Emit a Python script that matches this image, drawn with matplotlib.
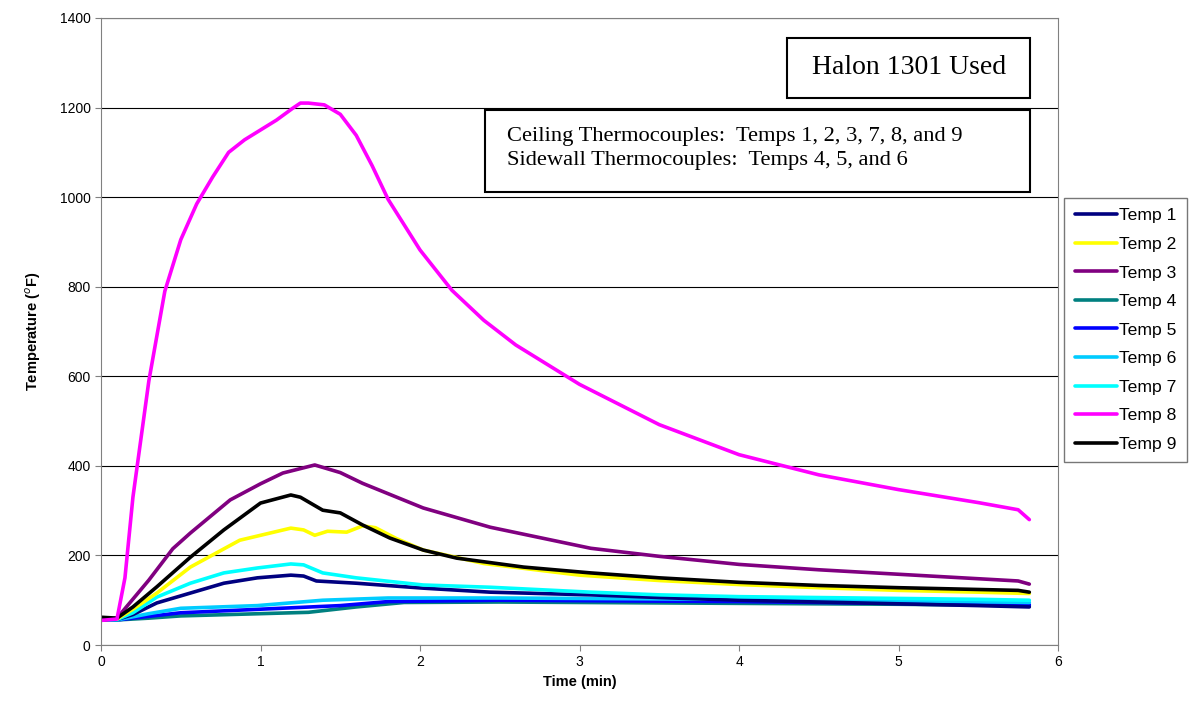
import matplotlib.pyplot as plt
from matplotlib.patches import Rectangle

# time (min) and temperature (F)
t8 = [0, 0.1, 0.15, 0.2, 0.3, 0.4, 0.5, 0.6, 0.7, 0.8, 0.9, 1.0, 1.1, 1.2, 1.25, 1.3, 1.4,
      1.5, 1.6, 1.7, 1.8, 2.0, 2.2, 2.4, 2.6, 3.0, 3.5, 4.0, 4.5, 5.0, 5.5, 5.75, 5.82]
temp8 = [55, 58, 150, 330, 590, 790, 905, 985, 1045, 1100, 1128, 1150, 1172, 1198, 1210, 1210, 1206,
         1185, 1138, 1070, 995, 882, 792, 725, 670, 582, 492, 425, 380, 347, 318, 302, 280]

t3 = [0, 0.1, 0.3, 0.45, 0.56, 0.81, 1.0, 1.14, 1.34, 1.5, 1.64, 2.02, 2.44, 3.07, 3.5, 4.0, 4.5,
      5.0, 5.5, 5.75, 5.82]
temp3 = [55, 60, 145, 215, 250, 324, 360, 384, 402, 385, 361, 306, 263, 216, 198, 180, 168,
         158, 148, 143, 136]

t9 = [0, 0.1, 0.2, 0.35, 0.56, 0.77, 1.0, 1.19, 1.25, 1.39, 1.5, 1.64, 1.81, 2.02, 2.23, 2.65,
      3.07, 3.5, 4.0, 4.5, 5.0, 5.5, 5.75, 5.82]
temp9 = [62, 60, 85, 130, 196, 257, 317, 335, 330, 301, 295, 268, 239, 212, 194, 174,
         161, 150, 140, 133, 128, 124, 122, 118]

t2 = [0, 0.1, 0.2, 0.35, 0.56, 0.87, 1.19, 1.27, 1.34, 1.42, 1.54, 1.64, 1.72, 1.85, 2.02,
      2.4, 3.0, 3.5, 4.0, 4.5, 5.0, 5.5, 5.82]
temp2 = [58, 58, 80, 116, 174, 234, 261, 257, 245, 254, 252, 266, 262, 238, 212,
         182, 156, 144, 135, 128, 122, 118, 115]

t7 = [0, 0.1, 0.2, 0.35, 0.56, 0.77, 0.98, 1.19, 1.27, 1.39, 1.6, 2.02, 2.44, 3.07, 3.5, 4.0,
      4.5, 5.0, 5.5, 5.82]
temp7 = [57, 57, 72, 107, 138, 161, 172, 181, 179, 161, 150, 134, 129, 118, 112, 108,
         106, 104, 102, 100]

t1 = [0, 0.1, 0.2, 0.35, 0.56, 0.77, 0.98, 1.19, 1.27, 1.35, 1.6, 2.02, 2.44, 3.07, 3.5, 4.0,
      4.5, 5.0, 5.5, 5.82]
temp1 = [57, 57, 68, 94, 116, 138, 150, 156, 154, 143, 138, 127, 118, 112, 106, 100,
         96, 92, 88, 85]

t6 = [0, 0.1, 0.3, 0.5, 0.98, 1.39, 1.8, 2.5, 3.0, 4.0, 5.0, 5.82]
temp6 = [56, 56, 70, 82, 88, 100, 105, 105, 104, 102, 99, 95]

t5 = [0, 0.1, 0.3, 0.5, 1.0, 1.5, 1.8, 2.5, 3.0, 4.0, 5.0, 5.82]
temp5 = [56, 56, 64, 72, 80, 88, 97, 100, 99, 97, 93, 90]

t4 = [0, 0.1, 0.3, 0.5, 1.0, 1.3, 1.6, 1.9, 2.5, 3.0, 4.0, 5.0, 5.82]
temp4 = [56, 56, 60, 65, 70, 73, 85, 95, 96, 95, 93, 91, 88]

series = [
    ('Temp 1', t1, temp1, '#000080'),
    ('Temp 2', t2, temp2, '#FFFF00'),
    ('Temp 3', t3, temp3, '#800080'),
    ('Temp 4', t4, temp4, '#008080'),
    ('Temp 5', t5, temp5, '#0000FF'),
    ('Temp 6', t6, temp6, '#00CCFF'),
    ('Temp 7', t7, temp7, '#00FFFF'),
    ('Temp 8', t8, temp8, '#FF00FF'),
    ('Temp 9', t9, temp9, '#000000'),
]

plt.rcParams['font.family'] = 'Liberation Sans'

fig = plt.figure(figsize=(11.97, 7.11), dpi=100)
ax = fig.add_axes([0.0844, 0.0928, 0.7995, 0.8819])

# draw order: later series on top as in the source
order = [3, 4, 5, 0, 6, 1, 2, 8, 7]
lines = {}
for i in order:
    name, t, v, c = series[i]
    ln, = ax.plot(t, v, color=c, linewidth=2.6, label=name, solid_capstyle='round')
    lines[i] = ln

ax.set_xlim(0, 6)
ax.set_ylim(0, 1400)
ax.set_xticks(range(0, 7))
ax.set_yticks(range(0, 1401, 200))
ax.yaxis.grid(True, color='black', linewidth=0.8)
ax.set_axisbelow(True)
ax.tick_params(labelsize=10, direction='out', length=4, color='#808080')
for s in ax.spines.values():
    s.set_color('#808080')

ax.set_xlabel('Time (min)', fontsize=10.5, fontweight='bold', labelpad=4)
ax.set_ylabel('Temperature ($^o$F)', fontsize=10.5, fontweight='bold', labelpad=12)

# annotation boxes
ax.add_patch(Rectangle((0.717, 0.872), 0.254, 0.096, transform=ax.transAxes,
                       facecolor='white', edgecolor='black', linewidth=1.5, zorder=5))
ax.text(0.844, 0.921, 'Halon 1301 Used', transform=ax.transAxes, ha='center', va='center',
        fontsize=20, family='Liberation Serif', zorder=6)
ax.add_patch(Rectangle((0.401, 0.722), 0.570, 0.131, transform=ax.transAxes,
                       facecolor='white', edgecolor='black', linewidth=1.5, zorder=5))
ax.text(0.424, 0.792, 'Ceiling Thermocouples:  Temps 1, 2, 3, 7, 8, and 9\n'
        'Sidewall Thermocouples:  Temps 4, 5, and 6',
        transform=ax.transAxes, ha='left', va='center', fontsize=16.2, family='Liberation Serif',
        linespacing=1.3, zorder=6)

handles = [lines[i] for i in range(9)]
leg = fig.legend(handles, [s[0] for s in series], loc='upper left',
                 bbox_to_anchor=(0.889, 0.722), fontsize=12.6, fancybox=False,
                 edgecolor='#555555', handlelength=2.4, handletextpad=0.15,
                 labelspacing=0.76, borderpad=0.6, borderaxespad=0)
leg.get_frame().set_linewidth(1.0)

fig.savefig('out.png', dpi=100)
